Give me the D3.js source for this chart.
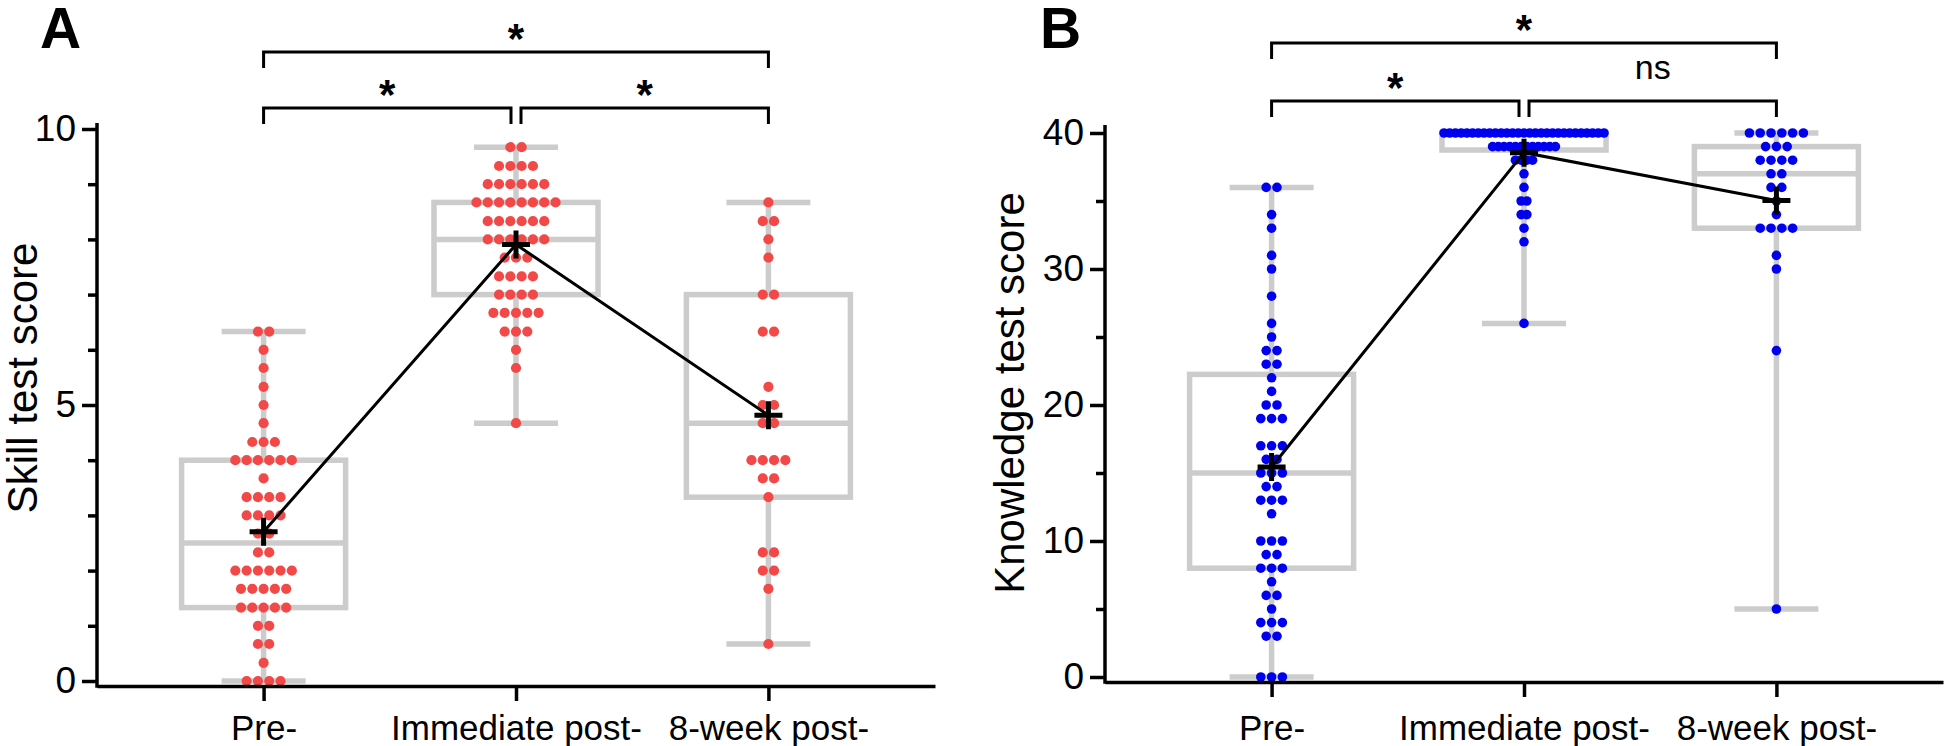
<!DOCTYPE html>
<html><head><meta charset="utf-8">
<script src="https://cdn.jsdelivr.net/npm/d3@7/dist/d3.min.js"></script>
<style>
body{margin:0;background:#fff}
svg{display:block}
text{font-family:"Liberation Sans",Arial,Helvetica,sans-serif;fill:#000}
</style>
</head><body>
<svg id="chart" width="1945" height="746"></svg>
<script>
// ---------- data ----------
const categories = ["Pre-", "Immediate post-", "8-week post-"];

const skillPre = [6.33,6.33,6,5.67,5.33,5,4.67,4.33,4.33,4.33,4,4,4,4,4,4,3.67,3.33,3.33,3.33,3.33,3,3,3,3,2.67,2.67,2.33,2.33,2,2,2,2,2,2,1.67,1.67,1.67,1.67,1.67,1.33,1.33,1.33,1.33,1.33,1,1,0.67,0.67,0.33,0,0,0,0];
const skillImmediate = [9.67,9.67,9.33,9.33,9.33,9.33,9,9,9,9,9,9,8.67,8.67,8.67,8.67,8.67,8.67,8.67,8.67,8.33,8.33,8.33,8.33,8.33,8.33,8,8,8,8,8,8,7.67,7.67,7.67,7.33,7.33,7.33,7.33,7,7,7,7,6.67,6.67,6.67,6.67,6.67,6.33,6.33,6.33,6,5.67,4.67];
const skillWeek8 = [8.67,8.33,8.33,8,7.67,7,7,6.33,6.33,5.33,5,5,4.67,4.67,4,4,4,4,3.67,3.67,3.33,2.33,2.33,2,2,1.67,0.67];

const knowPre = [36,36,34,33,31,30,28,26,25,24,24,23,23,22,21,20,20,19,19,19,17,17,17,16,16,15,15,15,14,14,13,13,13,12,10,10,10,9,9,8,8,8,7,6,6,5,4,4,4,3,3,0,0,0];
const knowImmediate = [40,40,40,40,40,40,40,40,40,40,40,40,40,40,40,40,40,40,40,40,40,40,40,40,40,40,40,40,40,39,39,39,39,39,39,39,39,39,39,39,39,38,38,38,38,37,36,35,35,34,34,33,32,26];
const knowWeek8 = [40,40,40,40,40,40,39,39,39,38,38,38,38,37,37,36,36,35,34,33,33,33,33,31,30,24,5];

const skillTicks = [0, 5, 10];
const skillMinorTicks = [1, 2, 3, 4, 6, 7, 8, 9];
const knowTicks = [0, 10, 20, 30, 40];
const knowMinorTicks = [5, 15, 25, 35];

const skillBrackets = [
  {from: "Pre-", to: "8-week post-", level: 0, label: "*"},
  {from: "Pre-", to: "Immediate post-", level: 1, label: "*"},
  {from: "Immediate post-", to: "8-week post-", level: 1, label: "*"}
];
const knowBrackets = [
  {from: "Pre-", to: "8-week post-", level: 0, label: "*"},
  {from: "Pre-", to: "Immediate post-", level: 1, label: "*"},
  {from: "Immediate post-", to: "8-week post-", level: 1, label: "ns"}
];

// ---------- helpers ----------
function prismQuantile(arr, p) {
  const s = arr.slice().sort((a, b) => a - b);
  const n = s.length;
  const pos = (n + 1) * p;
  if (pos <= 1) return s[0];
  if (pos >= n) return s[n - 1];
  const lo = Math.floor(pos), f = pos - lo;
  return s[lo - 1] + f * (s[lo] - s[lo - 1]);
}

const svg = d3.select("#chart");
svg.append("rect").attr("width", 1945).attr("height", 746).attr("fill", "#fff");

const GREY = "#cccccc";
const FONT = 35;
const TICKFONT = 37;

function drawPanel(cfg) {
  const g = svg.append("g");
  const x = d3.scalePoint().domain(categories).range([cfg.axisX, cfg.xEnd]).padding(0.66);
  const y = d3.scaleLinear().domain(cfg.domain).range(cfg.yRange);
  const xAxisY = y(0) + 5;

  // panel letter
  g.append("text").attr("x", cfg.letterX).attr("y", 48)
    .attr("font-size", 57).attr("font-weight", "bold").text(cfg.letter);

  // y axis label
  g.append("text")
    .attr("transform", `translate(${cfg.yLabelX},${cfg.yLabelY}) rotate(-90)`)
    .attr("text-anchor", "middle").attr("font-size", 42).text(cfg.yLabel);

  // boxes & whiskers
  cfg.groups.forEach((vals, i) => {
    const cx = x(categories[i]);
    const q1 = prismQuantile(vals, 0.25), med = prismQuantile(vals, 0.5), q3 = prismQuantile(vals, 0.75);
    const mn = d3.min(vals), mx = d3.max(vals);
    const bw = 82, cw = 42;
    const bg = g.append("g").attr("stroke", GREY).attr("stroke-width", 5.5).attr("fill", "none");
    bg.append("line").attr("x1", cx).attr("x2", cx).attr("y1", y(q3)).attr("y2", y(mx));
    bg.append("line").attr("x1", cx).attr("x2", cx).attr("y1", y(q1)).attr("y2", y(mn));
    bg.append("line").attr("x1", cx - cw).attr("x2", cx + cw).attr("y1", y(mx)).attr("y2", y(mx));
    bg.append("line").attr("x1", cx - cw).attr("x2", cx + cw).attr("y1", y(mn)).attr("y2", y(mn));
    bg.append("rect").attr("x", cx - bw).attr("y", y(q3)).attr("width", 2 * bw).attr("height", y(q1) - y(q3));
    bg.append("line").attr("x1", cx - bw).attr("x2", cx + bw).attr("y1", y(med)).attr("y2", y(med));
  });

  // dots
  cfg.groups.forEach((vals, i) => {
    const cx = x(categories[i]);
    const rows = d3.groups(vals, v => v);
    const maxCount = d3.max(rows, r => r[1].length);
    const sp = Math.min(cfg.spacing, maxCount > 1 ? 160 / (maxCount - 1) : cfg.spacing);
    const pts = [];
    rows.forEach(([v, arr]) => {
      const n = arr.length;
      arr.forEach((_, k) => pts.push({x: cx + (k - (n - 1) / 2) * sp, y: y(v)}));
    });
    g.append("g").selectAll("circle").data(pts).join("circle")
      .attr("cx", d => d.x).attr("cy", d => d.y).attr("r", cfg.r).attr("fill", cfg.color);
  });

  // means
  const means = cfg.groups.map((vals, i) => ({c: categories[i], m: d3.mean(vals)}));
  g.append("path").datum(means)
    .attr("d", d3.line().x(d => x(d.c)).y(d => y(d.m)))
    .attr("fill", "none").attr("stroke", "#000").attr("stroke-width", 3);
  means.forEach(d => {
    const cx = x(d.c), cy = y(d.m);
    g.append("path").attr("d", `M${cx - 14},${cy}H${cx + 14}M${cx},${cy - 14}V${cy + 14}`)
      .attr("stroke", "#000").attr("stroke-width", 5).attr("fill", "none");
  });

  // y axis
  const ya = g.append("g").attr("transform", `translate(${cfg.axisX},0)`);
  ya.call(d3.axisLeft(y).tickValues(cfg.minorTicks).tickSize(9).tickFormat(""))
    .call(a => a.select(".domain").remove());
  ya.append("g").call(d3.axisLeft(y).tickValues(cfg.ticks).tickSize(15).tickPadding(6).tickFormat(d3.format("d")))
    .call(a => a.select(".domain").remove());
  ya.selectAll("line").attr("stroke", "#000").attr("stroke-width", 3.5);
  ya.selectAll("text").attr("font-size", TICKFONT).attr("font-family", null).attr("fill", "#000");
  ya.append("line").attr("x1", 0).attr("x2", 0).attr("y1", cfg.yTop).attr("y2", xAxisY + 1.75)
    .attr("stroke", "#000").attr("stroke-width", 3.5);

  // x axis
  const xa = g.append("g").attr("transform", `translate(0,${xAxisY})`)
    .call(d3.axisBottom(x).tickSize(15).tickSizeOuter(0).tickPadding(740 - xAxisY - 15 - 0.71 * FONT));
  xa.select(".domain").attr("stroke", "#000").attr("stroke-width", 3.5);
  xa.selectAll("line").attr("stroke", "#000").attr("stroke-width", 3.5);
  xa.selectAll("text").attr("font-size", FONT).attr("font-family", null).attr("fill", "#000");

  // significance brackets
  cfg.brackets.forEach(b => {
    const yb = cfg.bracketY[b.level];
    const shared = cfg.brackets.filter(o => o !== b && o.level === b.level);
    let x1 = x(b.from), x2 = x(b.to);
    if (shared.some(o => o.to === b.from)) x1 += 5;
    if (shared.some(o => o.from === b.to)) x2 -= 5;
    g.append("path").attr("d", `M${x1},${yb + 16}V${yb}H${x2}V${yb + 16}`)
      .attr("fill", "none").attr("stroke", "#000").attr("stroke-width", 3);
    const mx = (x1 + x2) / 2;
    if (b.label === "*") {
      g.append("text").attr("x", mx).attr("y", yb + 1).attr("text-anchor", "middle")
        .attr("font-size", 42).attr("font-weight", "bold").text("*");
    } else {
      g.append("text").attr("x", mx).attr("y", yb - 22).attr("text-anchor", "middle")
        .attr("font-size", 34).text(b.label);
    }
  });
}

drawPanel({
  letter: "A", letterX: 40, axisX: 97, xEnd: 935, yRange: [681, 129], yTop: 123, domain: [0, 10],
  ticks: skillTicks, minorTicks: skillMinorTicks, groups: [skillPre, skillImmediate, skillWeek8],
  color: "#f24848", r: 5.1, spacing: 11.3, yLabel: "Skill test score", yLabelX: 37, yLabelY: 378,
  brackets: skillBrackets, bracketY: [52, 108]
});
drawPanel({
  letter: "B", letterX: 1040, axisX: 1105, xEnd: 1943, yRange: [677, 133], yTop: 125, domain: [0, 40],
  ticks: knowTicks, minorTicks: knowMinorTicks, groups: [knowPre, knowImmediate, knowWeek8],
  color: "#0000f0", r: 4.8, spacing: 10.8, yLabel: "Knowledge test score", yLabelX: 1024, yLabelY: 393,
  brackets: knowBrackets, bracketY: [43, 101]
});
</script>
</body></html>
